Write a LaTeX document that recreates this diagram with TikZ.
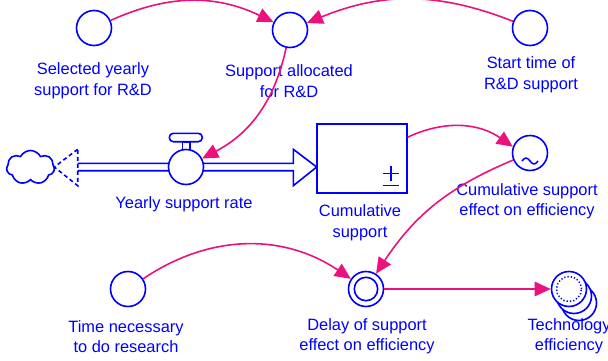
\documentclass[tikz,border=0pt]{standalone}
\usepackage{fontspec}
\setmainfont{Liberation Sans}
\usetikzlibrary{shapes.symbols, arrows.meta}
\definecolor{vblue}{RGB}{0,0,255}
\definecolor{vpink}{RGB}{236,18,126}

\begin{document}
\begin{tikzpicture}[x=1pt, y=1pt,
  aux/.style={circle, draw=vblue, line width=1.6pt, fill=white, minimum size=35pt, inner sep=0pt},
  lbl/.style={text=vblue, align=center, font=\fontsize{16.4}{20.5}\selectfont, inner sep=0pt},
  link/.style={draw=vpink, line width=1.6pt, -{Triangle[length=16pt, width=14.5pt]}},
  pipe/.style={draw=vblue, line width=1.6pt},
]
\useasboundingbox (0,0) rectangle (608,360);

% ---- flow: cloud source, pipe and valve ----
\node[cloud, draw=vblue, line width=1.6pt, cloud puffs=7, cloud puff arc=125, aspect=1.45,
      minimum width=48pt, minimum height=34pt, inner sep=0pt] (cloud) at (30.5,192.5) {};
\coordinate (pipeL) at (77.7,193);
\coordinate (pipeR) at (316.7,193);
\draw[pipe, dash pattern=on 4pt off 3pt]
  ([yshift=17.7]pipeL) -- ([xshift=-23.4]pipeL) -- ([yshift=-18.7]pipeL) -- cycle;
\draw[pipe, line join=miter]
  ([yshift=3.7]pipeL) -- ([xshift=-23.4, yshift=3.7]pipeR) -- ++(0,14)
  -- (pipeR) -- ([xshift=-23.4, yshift=-18.7]pipeR) -- ++(0,15) -- ([yshift=-3.7]pipeL);

% valve with its handle
\begin{scope}[shift={(186,193)}]
  \draw[pipe, fill=white] (-3.7,17) rectangle (4,25.3);
  \draw[pipe, fill=white, rounded corners=4pt] (-16.7,25.3) rectangle (16.3,33.7);
\end{scope}
\node[aux] (valve) at (186,193) {};

% ---- stock ----
\node[draw=vblue, line width=1.6pt, fill=white, minimum width=90pt, minimum height=69pt,
      inner sep=0pt] (stock) at (362,201.5) {};
\begin{scope}[shift={(391,183)}, line width=1.6pt, vblue]
  \draw (-8,3.7) -- (8,3.7);
  \draw (0,-4) -- (0,11);
  \draw (-8,-8.3) -- (8,-8.3);
\end{scope}

% ---- auxiliaries ----
\node[aux] (sel) at (94,332) {};
\node[aux] (alloc) at (290,330) {};
\node[aux] (start) at (530,332) {};
\node[aux] (cumeff) at (530,207) {};
\draw[vblue, line width=1.5pt] ([shift={(-8,-8)}]cumeff.center)
  sin ++(4,3) cos ++(4,-3) sin ++(4,-3) cos ++(4,3);
\node[aux] (time) at (128,71) {};
\node[aux] (delay) at (366,71) {};
\draw[vblue, line width=1.6pt] (delay.center) circle (11.7);

% stacked level of technology efficiency
\node[aux] (techC) at (579,57) {};
\node[aux] (techB) at (574,64) {};
\node[aux] (tech) at (569,71) {};
\draw[vblue, line width=1.5pt, dash pattern=on 1.3pt off 2pt] (tech.center) circle (12.5);

% ---- labels ----
\node[lbl] (selL) at (93,279) {Selected yearly\\support for R\&D};
\node[lbl] (allocL) at (289,279) {Support allocated\\for R\&D};
\node[lbl] (startL) at (531,285) {Start time of\\R\&D support};
\node[lbl] (valveL) at (184,156) {Yearly support rate};
\node[lbl] (stockL) at (360,137) {Cumulative\\support};
\node[lbl] (cumeffL) at (527,158.5) {Cumulative support\\effect on efficiency};
\node[lbl] (timeL) at (126,23.5) {Time necessary\\to do research};
\node[lbl] (delayL) at (367,23.5) {Delay of support\\effect on efficiency};
\node[lbl] (techL) at (569,23.5) {Technology\\efficiency};

% ---- information links ----
\draw[link] (sel) to[bend left=25] (alloc);
\draw[link] (start) to[bend right=22] (alloc);
\draw[link] (alloc) to[bend left=25] (valve);
\draw[link] (stock.25) to[out=25, in=145] (cumeff.160);
\draw[link] (cumeff) to[bend right=17] (delay);
\draw[link] (time) to[bend left=34] (delay);
\draw[link] (delay) -- (tech);
\end{tikzpicture}
\end{document}
